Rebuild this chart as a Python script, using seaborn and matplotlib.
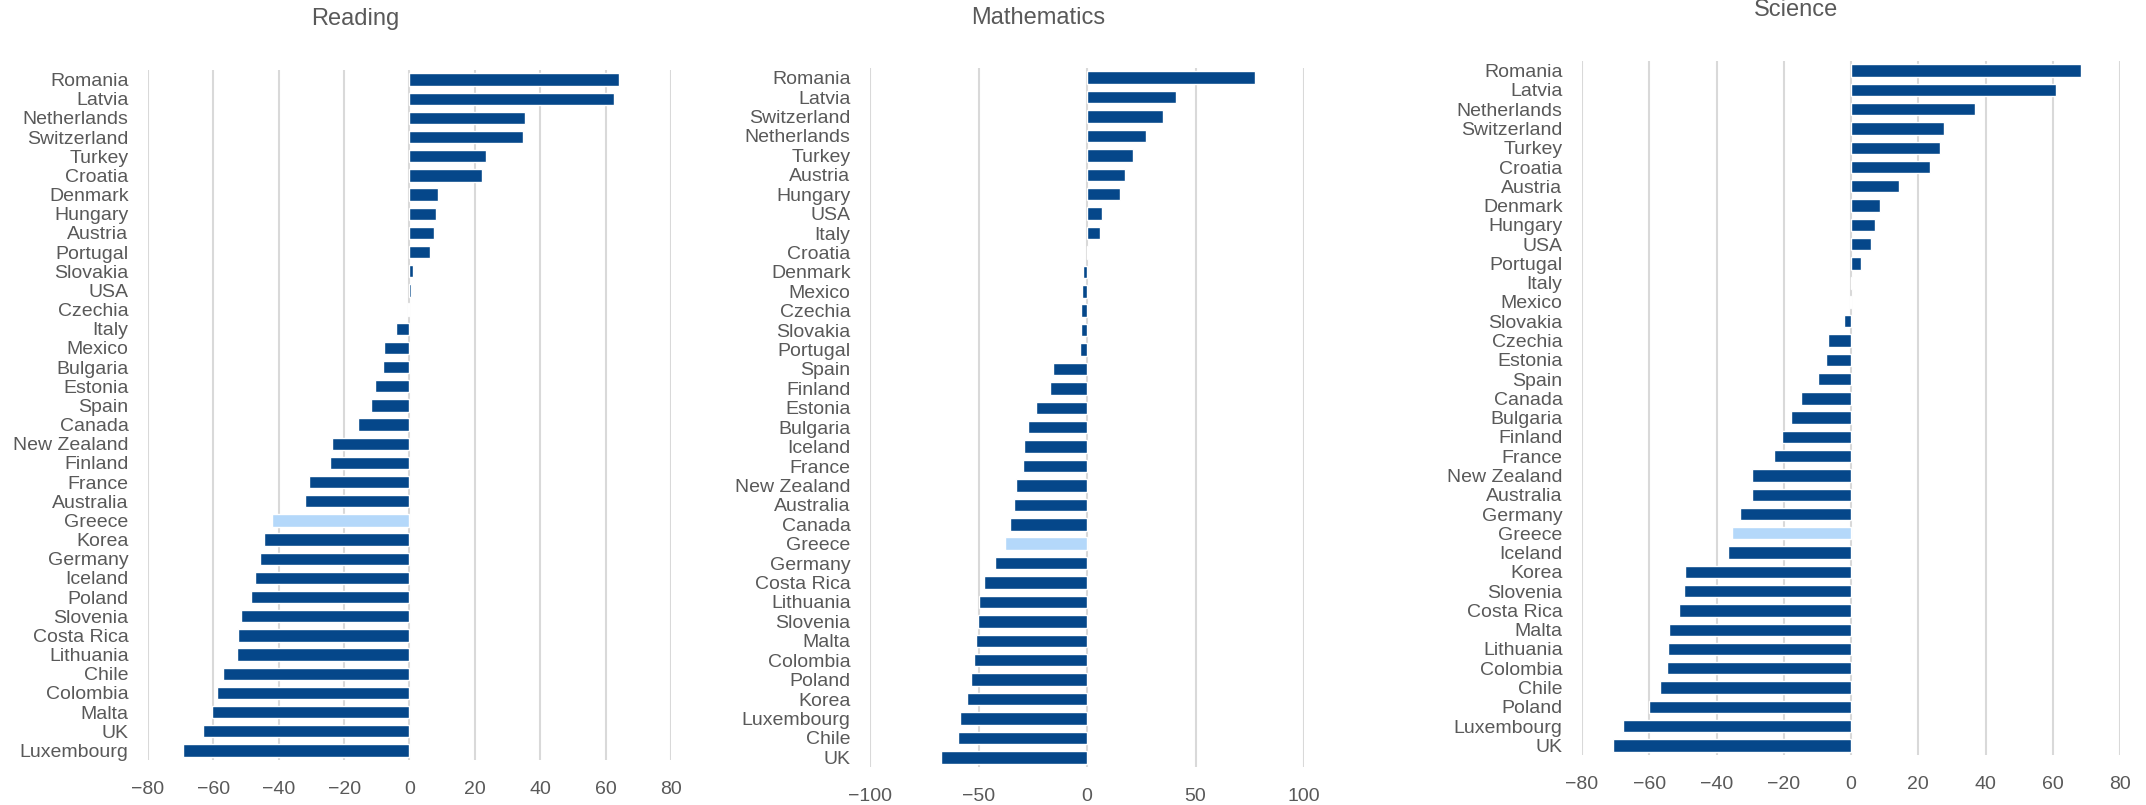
import matplotlib
matplotlib.use("Agg")
import matplotlib.pyplot as plt
import seaborn as sns

# Change in score per country, top-to-bottom as shown in each panel
reading_countries = ["Romania", "Latvia", "Netherlands", "Switzerland", "Turkey", "Croatia",
                     "Denmark", "Hungary", "Austria", "Portugal", "Slovakia", "USA", "Czechia",
                     "Italy", "Mexico", "Bulgaria", "Estonia", "Spain", "Canada", "New Zealand",
                     "Finland", "France", "Australia", "Greece", "Korea", "Germany", "Iceland",
                     "Poland", "Slovenia", "Costa Rica", "Lithuania", "Chile", "Colombia",
                     "Malta", "UK", "Luxembourg"]
reading_values = [64.0, 62.7, 35.4, 34.6, 23.4, 22.2, 8.7, 8.2, 7.4, 6.4, 1.0, 0.5, -0.6,
                  -4.0, -7.9, -8.2, -10.5, -11.7, -15.8, -23.7, -24.3, -30.7, -32.0, -42.0,
                  -44.6, -45.8, -47.3, -48.5, -51.4, -52.5, -52.7, -57.0, -58.9, -60.4,
                  -63.1, -69.2]

math_countries = ["Romania", "Latvia", "Switzerland", "Netherlands", "Turkey", "Austria",
                  "Hungary", "USA", "Italy", "Croatia", "Denmark", "Mexico", "Czechia",
                  "Slovakia", "Portugal", "Spain", "Finland", "Estonia", "Bulgaria", "Iceland",
                  "France", "New Zealand", "Australia", "Canada", "Greece", "Germany",
                  "Costa Rica", "Lithuania", "Slovenia", "Malta", "Colombia", "Poland",
                  "Korea", "Luxembourg", "Chile", "UK"]
math_values = [77.4, 41.2, 34.8, 27.0, 21.0, 17.5, 15.2, 6.8, 5.8, 0.3, -1.9, -2.1, -2.7,
               -2.9, -3.3, -15.6, -17.1, -23.3, -27.2, -29.2, -29.6, -32.7, -33.5, -35.6,
               -37.7, -42.4, -47.3, -49.8, -50.2, -51.2, -52.1, -53.3, -55.3, -58.6,
               -59.5, -67.1]

science_countries = ["Romania", "Latvia", "Netherlands", "Switzerland", "Turkey", "Croatia",
                     "Austria", "Denmark", "Hungary", "USA", "Portugal", "Italy", "Mexico",
                     "Slovakia", "Czechia", "Estonia", "Spain", "Canada", "Bulgaria",
                     "Finland", "France", "New Zealand", "Australia", "Germany", "Greece",
                     "Iceland", "Korea", "Slovenia", "Costa Rica", "Malta", "Lithuania",
                     "Colombia", "Chile", "Poland", "Luxembourg", "UK"]
science_values = [68.3, 60.9, 37.0, 27.6, 26.5, 23.6, 14.4, 8.5, 7.1, 5.8, 3.0, 0.4, -0.3,
                  -2.1, -6.9, -7.3, -9.9, -14.8, -17.7, -20.6, -22.9, -29.3, -29.5, -33.0,
                  -35.3, -36.7, -49.4, -49.8, -51.3, -54.2, -54.3, -54.6, -56.8, -60.0,
                  -67.9, -70.7]

DARK = "#05478A"
LIGHT = "#B4D8FA"
TEXT = "#595959"
GRID = "#D9D9D9"

sns.set_theme(style="white")
plt.rcParams["font.family"] = ["Liberation Sans", "DejaVu Sans"]

W, H = 2146, 805
fig = plt.figure(figsize=(W / 100, H / 100), dpi=100)


def px_axes(left, right, top, bottom):
    return fig.add_axes([left / W, (H - bottom) / H, (right - left) / W, (bottom - top) / H])


panels = [
    ("Reading", reading_countries, reading_values, (148, 671, 70, 760), (-80, 80), 20, (355, 19)),
    ("Mathematics", math_countries, math_values, (870, 1304, 68, 767), (-100, 100), 50, (1038, 18)),
    ("Science", science_countries, science_values, (1582, 2120, 61, 755), (-80, 80), 20, (1796, 10)),
]

for title, countries, values, box, xlim, step, tpos in panels:
    ax = px_axes(*box)
    pal = {c: (LIGHT if c == "Greece" else DARK) for c in countries}
    sns.barplot(x=values, y=countries, hue=countries, palette=pal, legend=False,
                orient="h", width=0.64, ax=ax, saturation=1)
    ax.set_xlim(*xlim)
    ax.set_xticks(range(xlim[0], xlim[1] + 1, step))
    ax.set_axisbelow(True)
    ax.grid(axis="x", color=GRID, linewidth=1.5)
    ax.grid(axis="y", visible=False)
    for s in ax.spines.values():
        s.set_visible(False)
    ax.tick_params(axis="both", length=0, labelsize=14, labelcolor=TEXT)
    ax.tick_params(axis="x", pad=15)
    ax.tick_params(axis="y", pad=14)
    ax.set_xlabel("")
    ax.set_ylabel("")
    fig.text(tpos[0] / W, 1 - tpos[1] / H, title, ha="center", va="center",
             fontsize=17, color=TEXT)

fig.savefig("out.png", dpi=100, facecolor="white")
